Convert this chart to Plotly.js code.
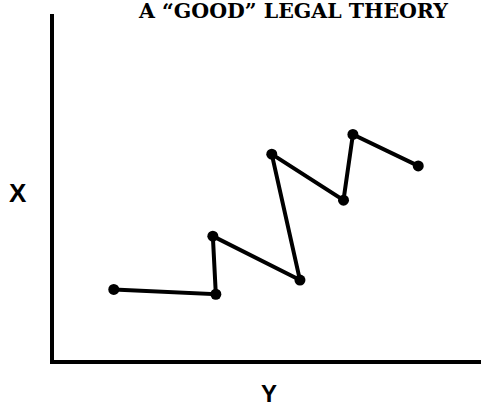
<!DOCTYPE html>
<html>
<head>
<meta charset="utf-8">
<script src="https://cdn.plot.ly/plotly-3.0.1.min.js"></script>
<style>
  body { margin: 0; background: #fff; }
  #chart { width: 481px; height: 409px; }
</style>
</head>
<body>
<div id="chart"></div>
<script>
// theory path, in arbitrary Y (horizontal) / X (vertical) units
const yValues = [1.40, 3.79, 3.72, 5.76, 5.10, 6.78, 7.00, 8.53];
const xValues = [2.04, 1.90, 3.58, 2.31, 5.95, 4.62, 6.52, 5.61];

const pathData = [{
  x: yValues,
  y: xValues,
  mode: "lines+markers",
  line: { color: "#000", width: 4 },
  marker: { color: "#000", size: 11 },
  hoverinfo: "skip"
}];

const layout = {
  width: 481,
  height: 409,
  margin: { l: 54, r: 0, t: 14, b: 49 },
  paper_bgcolor: "#fff",
  plot_bgcolor: "#fff",
  showlegend: false,
  xaxis: {
    range: [0, 10],
    showline: true, linecolor: "#000", linewidth: 4,
    showgrid: false, zeroline: false, showticklabels: false, ticks: ""
  },
  yaxis: {
    range: [0, 10],
    showline: true, linecolor: "#000", linewidth: 4,
    showgrid: false, zeroline: false, showticklabels: false, ticks: ""
  },
  annotations: [
    {
      text: "A \u201CGOOD\u201D LEGAL THEORY",
      xref: "paper", yref: "paper", x: 0.56, y: 1.05,
      xanchor: "center", yanchor: "top", showarrow: false,
      font: { family: "DejaVu Serif", size: 20.5, color: "#000", weight: "bold" }
    },
    {
      text: "<b>X</b>",
      xref: "paper", yref: "paper", x: -0.084, y: 0.483,
      xanchor: "center", yanchor: "middle", showarrow: false,
      font: { family: "Liberation Sans", size: 26, color: "#000" }
    },
    {
      text: "<b>Y</b>",
      xref: "paper", yref: "paper", x: 0.503, y: -0.096,
      xanchor: "center", yanchor: "middle", showarrow: false,
      font: { family: "Liberation Sans", size: 24, color: "#000" }
    }
  ]
};

Plotly.newPlot("chart", pathData, layout, { staticPlot: true, displayModeBar: false });
</script>
</body>
</html>
